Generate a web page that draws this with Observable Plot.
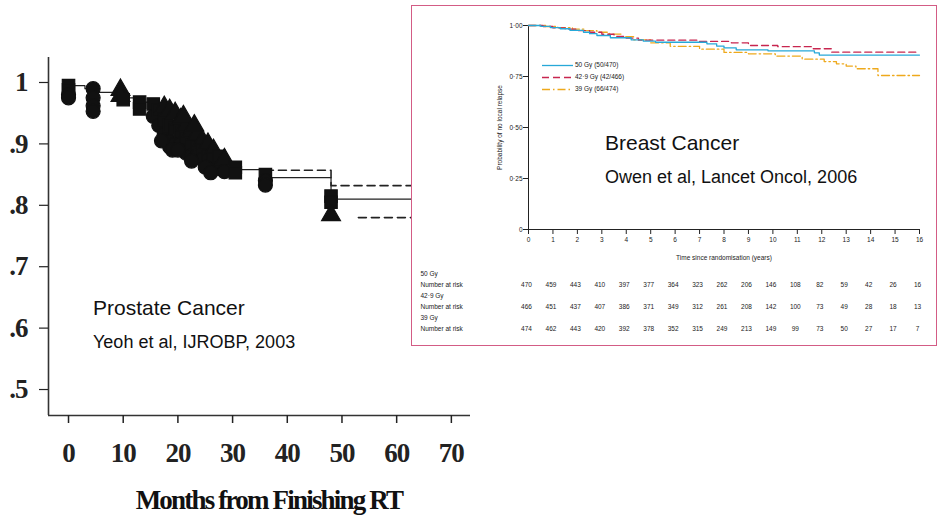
<!DOCTYPE html>
<html><head><meta charset="utf-8">
<script src="https://cdn.jsdelivr.net/npm/d3@7"></script>
<script src="https://cdn.jsdelivr.net/npm/@observablehq/plot@0.6"></script>
<style>
body{margin:0;background:#fff;}
#wrap{position:relative;width:937px;height:521px;overflow:hidden;background:#fff;}
.abs{position:absolute;}
#left{left:0;top:0;z-index:1;}
#left text{font-family:"Liberation Serif","Times New Roman",serif;font-weight:bold;letter-spacing:-1px;}
#panel{left:411px;top:5px;width:526px;height:341px;box-sizing:border-box;border:1.5px solid #d35c85;background:#fff;z-index:2;}
#right{left:411px;top:5px;z-index:3;}
#table{left:411px;top:267px;z-index:3;}
.ann{position:absolute;z-index:5;font-family:"Liberation Sans",Arial,sans-serif;line-height:1;white-space:nowrap;color:#111;}
.leg{position:absolute;z-index:5;font-family:"Liberation Sans Narrow","Liberation Sans",Arial,sans-serif;font-size:6.5px;line-height:1;white-space:nowrap;color:#222;display:flex;align-items:center;}
#xlab{position:absolute;z-index:5;left:269px;top:487px;transform:translateX(-50%);font-family:"Liberation Serif","Times New Roman",serif;font-weight:bold;font-size:27px;letter-spacing:-1.8px;line-height:1;white-space:nowrap;color:#111;}
</style></head>
<body><div id="wrap"></div>
<script>
// ---------- Left chart (Prostate) data ----------
const prostYTicks = [1, 0.9, 0.8, 0.7, 0.6, 0.5];
const prostYLabels = ["1", ".9", ".8", ".7", ".6", ".5"];
const prostXTicks = [0, 10, 20, 30, 40, 50, 60, 70];
const prostXLabel = "Months from Finishing RT";

const solidMonths = [0, 3, 5, 10, 12, 15, 17, 18, 19, 20, 21, 22, 23, 24, 25, 26, 27, 28, 29, 30, 36, 48, 73.5];
const solidValues = [0.995, 0.99, 0.984, 0.975, 0.968, 0.96, 0.95, 0.94, 0.93, 0.92, 0.915, 0.91, 0.905, 0.9, 0.895, 0.89, 0.885, 0.875, 0.865, 0.858, 0.845, 0.81, 0.81];
const upperMonths = [8.5, 10.5, 36, 48, 73.5];
const upperValues = [0.998, NaN, 0.857, 0.832, 0.832];
const lowerMonths = [8.5, 10.5, 36, 48, 53, 73.5];
const lowerValues = [0.965, NaN, 0.832, NaN, 0.78, 0.78];

const markerMonths = [0, 0, 0, 0, 4.5, 4.5, 4.5, 4.5, 9.5, 9.5, 10, 13, 13,
  15.5, 15.5, 16.5, 16.5, 17.5, 17.5, 17.5, 18.5, 18.5, 18.5, 18.5, 19.5, 19.5, 19.5,
  20.5, 20.5, 20.5, 21.5, 21.5, 21.5, 22.5, 22.5, 22.5, 23.5, 23.5, 23.5, 24.5, 24.5, 24.5,
  25.5, 25.5, 26.5, 26.5, 26.5, 27.5, 27.5, 28.5, 28.5, 30.5, 30.5,
  36, 36, 36, 48, 48, 48,
  17, 19, 20, 22.5, 25, 26, 21, 23];
const markerValues = [0.995, 0.988, 0.98, 0.975, 0.99, 0.975, 0.962, 0.953, 0.988, 0.978, 0.972, 0.968, 0.957,
  0.965, 0.945, 0.955, 0.93, 0.96, 0.94, 0.915, 0.955, 0.93, 0.905, 0.895, 0.95, 0.925, 0.9,
  0.94, 0.92, 0.9, 0.93, 0.91, 0.885, 0.92, 0.9, 0.88, 0.915, 0.895, 0.88, 0.905, 0.89, 0.875,
  0.9, 0.88, 0.89, 0.875, 0.86, 0.88, 0.86, 0.875, 0.855, 0.862, 0.853,
  0.85, 0.84, 0.833, 0.815, 0.805, 0.784,
  0.905, 0.89, 0.89, 0.872, 0.862, 0.853, 0.945, 0.93];
const markerSymbols = ["square", "square", "circle", "circle", "circle", "circle", "circle", "circle", "triangle", "triangle", "square", "square", "square",
  "square", "circle", "square", "circle", "triangle", "square", "circle", "triangle", "square", "circle", "circle", "triangle", "square", "circle",
  "triangle", "square", "circle", "triangle", "square", "circle", "triangle", "square", "circle", "triangle", "square", "circle", "triangle", "square", "circle",
  "triangle", "square", "triangle", "square", "circle", "square", "circle", "triangle", "circle", "square", "square",
  "square", "circle", "circle", "square", "square", "triangle",
  "circle", "circle", "circle", "circle", "circle", "circle", "triangle", "triangle"];

// ---------- Right chart (Breast) data ----------
const breastYTicks = [0, 0.25, 0.5, 0.75, 1];
const breastYLabels = ["0", "0·25", "0·50", "0·75", "1·00"];
const breastXTicks = [0, 1, 2, 3, 4, 5, 6, 7, 8, 9, 10, 11, 12, 13, 14, 15, 16];
const breastXLabel = "Time since randomisation (years)";
const breastYLabel = "Probability of no local relapse";

const gy50Times  = [0, 0.5, 0.9, 1.3, 1.7, 2.25, 2.5, 2.8, 3.35, 4.2, 4.7, 5.2, 7.3, 7.7, 8.0, 8.5, 9.8, 11.7, 11.9, 16];
const gy50Values = [1, 0.996, 0.99, 0.984, 0.976, 0.967, 0.96, 0.951, 0.94, 0.93, 0.923, 0.918, 0.91, 0.899, 0.89, 0.881, 0.876, 0.866, 0.855, 0.855];
const gy42Times  = [0, 0.6, 1.0, 1.5, 2.0, 2.5, 3.0, 3.5, 4.0, 4.5, 7.0, 8.3, 9.0, 10.2, 11.6, 12.4, 16];
const gy42Values = [1, 0.995, 0.988, 0.982, 0.975, 0.967, 0.957, 0.947, 0.938, 0.928, 0.922, 0.915, 0.902, 0.896, 0.886, 0.869, 0.869];
const gy39Times  = [0, 0.7, 1.2, 1.8, 2.3, 2.8, 3.3, 3.8, 4.3, 5.0, 5.8, 7.0, 8.0, 9.0, 10.1, 11.2, 12.1, 12.6, 13.0, 13.4, 14.3, 16];
const gy39Values = [1, 0.995, 0.99, 0.982, 0.975, 0.967, 0.958, 0.945, 0.93, 0.915, 0.898, 0.884, 0.868, 0.861, 0.85, 0.835, 0.823, 0.812, 0.801, 0.788, 0.755, 0.755];

const seriesNames = ["50 Gy (50/470)", "42·9 Gy (42/466)", "39 Gy (66/474)"];
const seriesColors = ["#27a8d8", "#c8264f", "#eea91c"];
const seriesDash = [null, "7,4", "8,3,1.5,3"];

const riskGroups = ["50 Gy", "42·9 Gy", "39 Gy"];
const riskRowLabel = "Number at risk";
const risk50 = [470, 459, 443, 410, 397, 377, 364, 323, 262, 206, 146, 108, 82, 59, 42, 26, 16];
const risk42 = [466, 451, 437, 407, 386, 371, 349, 312, 261, 208, 142, 100, 73, 49, 28, 18, 13];
const risk39 = [474, 462, 443, 420, 392, 378, 352, 315, 249, 213, 149, 99, 73, 50, 27, 17, 7];

const wrap = document.getElementById("wrap");

// ---------- Left plot ----------
const xLo = -3.66, xHi = 73.5, yLo = 0.4577, yHi = 1.0407;
const zip = (xs, ys) => xs.map((x, i) => ({x, y: ys[i]}));
const markers = markerMonths.map((m, i) => ({x: m, y: markerValues[i], s: markerSymbols[i]}));
const yLabMap = new Map(prostYTicks.map((v, i) => [v, prostYLabels[i]]));

const left = Plot.plot({
  width: 480, height: 521,
  marginLeft: 48, marginRight: 10, marginTop: 57, marginBottom: 106,
  x: {domain: [xLo, xHi]},
  y: {domain: [yLo, yHi]},
  symbol: {domain: ["circle", "square", "triangle"], range: ["circle", "square", "triangle"]},
  style: {background: "transparent", color: "#222"},
  marks: [
    Plot.ruleX([xLo], {stroke: "#333", strokeWidth: 1.6}),
    Plot.ruleY([yLo], {stroke: "#333", strokeWidth: 1.6}),
    Plot.axisY(prostYTicks, {tickSize: 9, tickPadding: 12, tickFormat: d => yLabMap.get(d), fontSize: 27, label: null, strokeWidth: 1.2}),
    Plot.axisX(prostXTicks, {tickSize: 8, tickPadding: 19, fontSize: 27, label: null, strokeWidth: 1.5}),
    Plot.line(zip(solidMonths, solidValues), {x: "x", y: "y", curve: "step-after", stroke: "#222", strokeWidth: 1.2}),
    Plot.line(zip(upperMonths, upperValues), {x: "x", y: "y", curve: "step-after", stroke: "#222", strokeWidth: 1.6, strokeDasharray: "8,5"}),
    Plot.line(zip(lowerMonths, lowerValues), {x: "x", y: "y", curve: "step-after", stroke: "#222", strokeWidth: 1.6, strokeDasharray: "8,5"}),
    Plot.dot(markers, {x: "x", y: "y", symbol: "s", r: 7, fill: "#111", stroke: "#111", strokeWidth: 1.2})
  ]
});
left.id = "left"; left.classList.add("abs");
wrap.appendChild(left);

// ---------- Right panel ----------
const panel = document.createElement("div");
panel.id = "panel"; panel.className = "abs";
wrap.appendChild(panel);

const bYLabMap = new Map(breastYTicks.map((v, i) => [v, breastYLabels[i]]));
const allTimes = [gy50Times, gy42Times, gy39Times];
const allValues = [gy50Values, gy42Values, gy39Values];
const narrow = '"Liberation Sans Narrow","Liberation Sans",Arial,sans-serif';

const right = Plot.plot({
  width: 525, height: 262,
  marginLeft: 117, marginRight: 17, marginTop: 20, marginBottom: 38,
  x: {domain: [0, 16]},
  y: {domain: [0, 1]},
  style: {background: "transparent", fontFamily: narrow, color: "#222"},
  marks: [
    Plot.ruleX([0], {stroke: "#222", strokeWidth: 1}),
    Plot.ruleY([0], {stroke: "#222", strokeWidth: 1}),
    Plot.axisY(breastYTicks, {tickSize: 5, tickPadding: 1, tickFormat: d => bYLabMap.get(d), fontSize: 6.5,
      label: breastYLabel, labelAnchor: "center", labelOffset: 31, labelArrow: false}),
    Plot.axisX(breastXTicks, {tickSize: 5, tickPadding: 3, fontSize: 6.5,
      label: breastXLabel, labelAnchor: "center", labelOffset: 30, labelArrow: false}),
    ...[2, 1, 0].map(k => Plot.line(zip(allTimes[k], allValues[k]), {
      x: "x", y: "y", curve: "step-after", stroke: seriesColors[k], strokeWidth: 1.3,
      strokeDasharray: seriesDash[k] || undefined
    }))
  ]
});
right.id = "right"; right.classList.add("abs");
wrap.appendChild(right);

// ---------- Risk table ----------
const rowKeys = ["g50", "n50", "g42", "n42", "g39", "n39"];
const rowLabels = [riskGroups[0], riskRowLabel, riskGroups[1], riskRowLabel, riskGroups[2], riskRowLabel];
const rowMap = new Map(rowKeys.map((k, i) => [k, rowLabels[i]]));
const tableData = [];
[[risk50, "n50"], [risk42, "n42"], [risk39, "n39"]].forEach(([arr, key]) =>
  arr.forEach((n, i) => tableData.push({t: breastXTicks[i], row: key, n})));

const table = Plot.plot({
  width: 525, height: 78,
  marginLeft: 117, marginRight: 17, marginTop: 6, marginBottom: 17,
  x: {domain: [0, 16], axis: null},
  y: {domain: rowKeys, type: "point", padding: 0, axis: null},
  style: {background: "transparent", fontFamily: narrow, color: "#222"},
  marks: [
    Plot.axisY(rowKeys, {tickSize: 0, tickPadding: 108, textAnchor: "start", tickFormat: k => rowMap.get(k), fontSize: 6.5, label: null}),
    Plot.text(tableData, {x: "t", y: "row", text: "n", fontSize: 6.5, dx: -2, fill: "#222"})
  ]
});
table.id = "table"; table.classList.add("abs");
wrap.appendChild(table);

// ---------- Legend (inside breast chart) ----------
const legTops = [62, 74, 85.5];
seriesNames.forEach((name, i) => {
  const d = document.createElement("div");
  d.className = "leg";
  d.style.left = "542px"; d.style.top = legTops[i] + "px";
  d.innerHTML = `<svg width="31" height="7" style="margin-right:2px"><line x1="0" x2="31" y1="3.5" y2="3.5" stroke="${seriesColors[i]}" stroke-width="1.3" ${seriesDash[i] ? `stroke-dasharray="${seriesDash[i]}"` : ""}/></svg><span>${name}</span>`;
  wrap.appendChild(d);
});

// ---------- Annotations ----------
function ann(text, x, top, size) {
  const d = document.createElement("div");
  d.className = "ann"; d.textContent = text;
  d.style.left = x + "px"; d.style.top = top + "px"; d.style.fontSize = size + "px";
  wrap.appendChild(d);
}
ann("Breast Cancer", 605, 132, 21);
ann("Owen et al, Lancet Oncol, 2006", 605, 168, 18);
ann("Prostate Cancer", 93, 297, 21);
ann("Yeoh et al, IJROBP, 2003", 93, 333, 18);

const xl = document.createElement("div");
xl.id = "xlab"; xl.textContent = prostXLabel;
wrap.appendChild(xl);
</script>
</body></html>
